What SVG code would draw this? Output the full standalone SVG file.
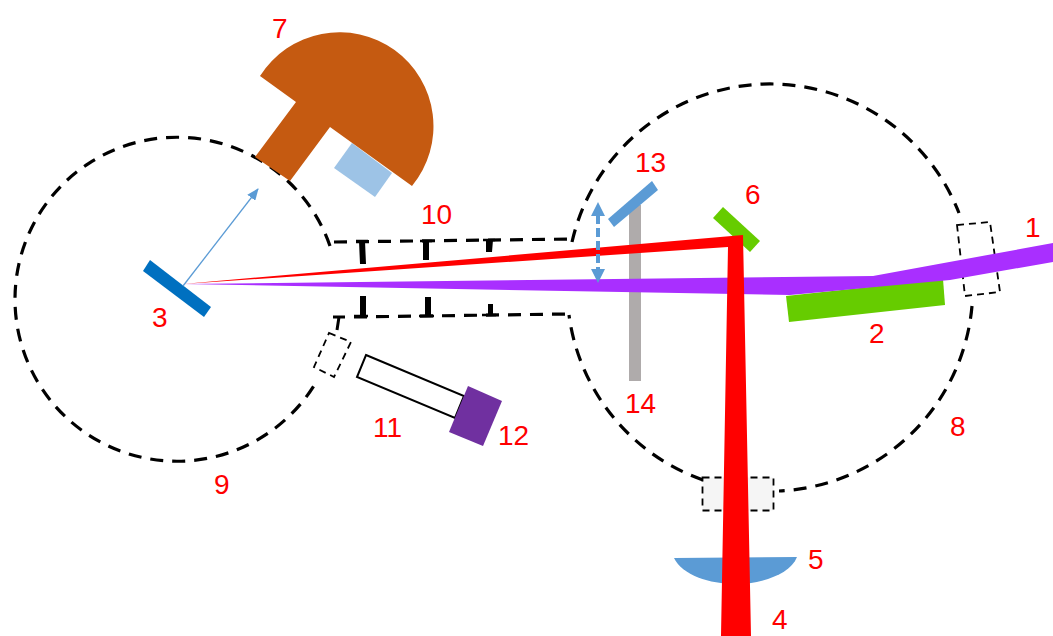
<svg xmlns="http://www.w3.org/2000/svg" width="1053" height="636" viewBox="0 0 1053 636">
<style>
.t{font-family:"Liberation Sans",Arial,sans-serif;font-size:28px;fill:#f00}
.w{fill:none;stroke:#000;stroke-width:3.200;stroke-dasharray:13 9}
.d{fill:none;stroke:#000;stroke-width:1.800;stroke-dasharray:7 5}
.b{fill:#000;stroke:none}
</style>
<defs>
<marker id="a" markerWidth="12" markerHeight="10" refX="11" refY="5" orient="auto" markerUnits="userSpaceOnUse"><path d="M0 0L12 5L0 10Z" fill="#5b9bd5"/></marker>
</defs>
<rect width="1053" height="636" fill="#fff"/>
<g id="chambers">
<path class="w" d="M330 246A162 162 0 1 0 318 379"/>
<path class="w" d="M572 242A203 203 0 0 1 959 213"/>
<path class="w" d="M972 306A203 203 0 0 1 779 491"/>
<path class="w" d="M703 480A203 203 0 0 1 569 315"/>
<path class="w" d="M334 242L572 239"/>
<path class="w" d="M354 317L567 314"/>
<path d="M333 317H345M339 317L337 330" fill="none" stroke="#000" stroke-width="3"/>
</g>
<g id="node-10">
<path class="b" d="M359 241h6l1 23h-6zM423 241h6v19h-6zM486 240h7l-1 12h-6zM360 296h6v21h-6zM425 297h6v19h-6zM488 304h5v11h-5z"/>
<path d="M356 241H368M420 241H432M483 240H495M354 316H368M419 316H434M482 315H496" stroke="#000" stroke-width="2.500"/>
<text class="t" x="421" y="224">10</text>
</g>
<g id="node-14"><rect x="629" y="205" width="12" height="176" fill="#afabab"/><text class="t" x="625" y="413">14</text></g>
<g id="node-13"><path d="M652 181L658 190L614 227L608 219Z" fill="#5b9bd5"/><text class="t" x="635" y="172">13</text></g>
<g id="node-6"><path d="M723 207L760 241L750 252L713 218Z" fill="#66cc00"/><text class="t" x="745" y="204">6</text></g>
<g id="node-2"><path d="M786 296L943 279L945 305L789 322Z" fill="#66cc00"/><text class="t" x="869" y="343">2</text></g>
<g id="node-7">
<path d="M352 143L392 173L375 197L334 168Z" fill="#9dc3e6"/>
<path d="M260 76A94 94 0 1 1 412 186L330 127L290 181L255 157L296 102Z" fill="#c55a11"/>
<text class="t" x="272" y="38">7</text>
</g>
<g id="node-3"><path d="M150 260L211 307L204 317L143 271Z" fill="#0070c0"/><text class="t" x="152" y="327">3</text></g>
<g id="node-5"><path d="M674 558L797 557C790 575 760 584 735 584C710 584 682 575 674 558Z" fill="#5b9bd5"/><text class="t" x="808" y="569">5</text></g>
<g id="node-box-bottom"><rect class="d" x="702.500" y="477.500" width="71" height="33" style="fill:#f5f5f5"/></g>
<g id="node-1"><path class="d" d="M957 225L990 222L1000 292L965 296Z"/><text class="t" x="1025" y="237">1</text></g>
<g id="node-box-left"><path class="d" d="M329 333L351 342L334 377L314 367Z"/></g>
<g id="node-11"><path d="M366 355L464 396L455 418L357 377Z" fill="#fff" stroke="#000" stroke-width="2"/><text class="t" x="373" y="437">11</text></g>
<g id="node-12"><path d="M468 386L502 401L483 446L449 432Z" fill="#7030a0"/><text class="t" x="498" y="445">12</text></g>
<g id="connectors">
<path d="M183 284L873 276L1053 243V262L950 280L790 295Z" fill="#a92fff"/>
<path d="M183 284L743 235L751 636H721L728 247Z" fill="#f00"/>
<path d="M183 286L258 189" fill="none" stroke="#5b9bd5" stroke-width="1.300" marker-end="url(#a)"/>
<path d="M598 215V269" fill="none" stroke="#5b9bd5" stroke-width="4" stroke-dasharray="9 4"/>
<path d="M598 202L605 216H591ZM598 283L605 269H591Z" fill="#5b9bd5"/>
</g>
<g id="labels"><text class="t" x="950" y="436">8</text><text class="t" x="214" y="494">9</text><text class="t" x="772" y="629">4</text></g>
</svg>
